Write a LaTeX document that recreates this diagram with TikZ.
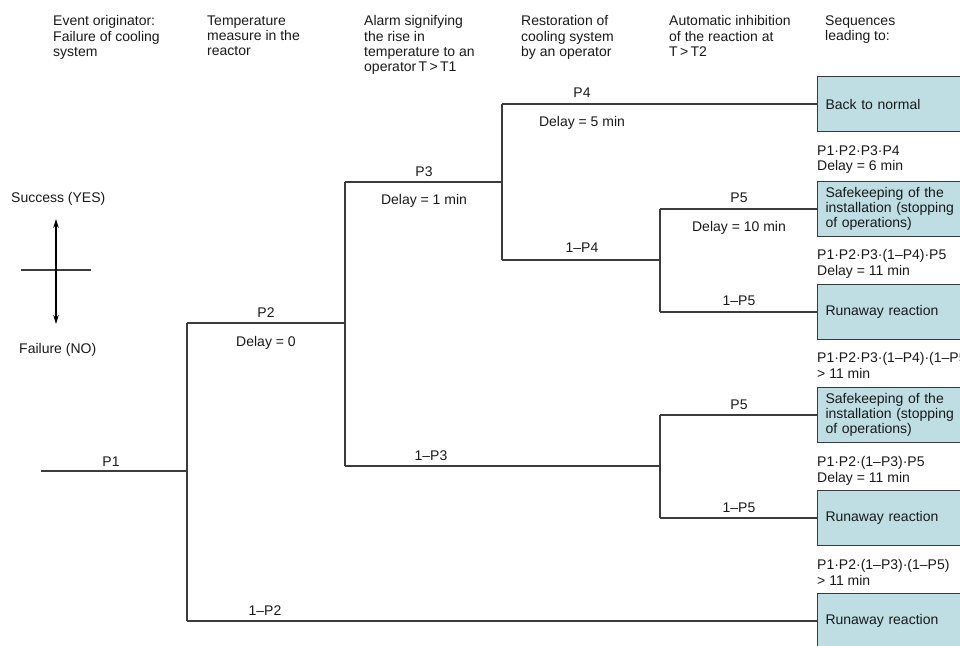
\documentclass[tikz,border=0pt]{standalone}
\usepackage{fontspec}
\setmainfont{Liberation Sans}
\usetikzlibrary{arrows.meta}
\definecolor{linegray}{RGB}{60,60,60}
\definecolor{boxfill}{RGB}{190,222,228}
\definecolor{boxedge}{RGB}{55,60,62}
\definecolor{inkcol}{RGB}{25,25,25}
\begin{document}
\begin{tikzpicture}[x=1pt,y=-1pt,
  txt/.style={font=\fontsize{14}{15.2}\selectfont, inner sep=0pt, text=inkcol},
  hdr/.style={txt, anchor=north west, align=left},
  lbl/.style={txt, anchor=base},
  seq/.style={txt, anchor=north west, align=left},
  branch/.style={draw=linegray, line width=1.2pt},
  outcome/.style={draw=boxedge, fill=boxfill, line width=1pt, anchor=west,
    minimum height=55pt, text width=150pt, inner xsep=8pt, inner ysep=0pt,
    align=left, font=\fontsize{14}{15.2}\selectfont, text=inkcol}]
\useasboundingbox (0,0) rectangle (960,645);
\clip (0,0) rectangle (960,645);

% column headings
\node[hdr] (h1) at (53,15.5) {Event originator:\\Failure of cooling\\system};
\node[hdr] (h2) at (207,15.5) {Temperature\\measure in the\\reactor};
\node[hdr] (h3) at (364,15.5) {Alarm signifying\\the rise in\\temperature to an\\operator\,T\,>\,T1};
\node[hdr] (h4) at (521,15.5) {Restoration of\\cooling system\\by an operator};
\node[hdr] (h5) at (669,15.5) {Automatic inhibition\\of the reaction at\\T\,>\,T2};
\node[hdr] (h6) at (825,15.5) {Sequences\\leading to:};

% legend
\node[txt, anchor=base west] (yes) at (11,202) {Success (YES)};
\node[txt, anchor=base west] (no) at (19,353) {Failure (NO)};
\coordinate (lup) at (56,219);
\coordinate (ldn) at (56,324);
\coordinate (ll) at (21,270);
\coordinate (lr) at (91,270);
\draw[branch] (ll) -- (lr);
\draw[draw=black, line width=1.2pt, {Stealth[length=9pt,width=5.5pt]}-{Stealth[length=9pt,width=5.5pt]}] (lup) -- (ldn);

% outcome boxes
\node[outcome] (o1) at (817,104) {Back to normal};
\node[outcome] (o2) at (817,209) {Safekeeping of the\\installation (stopping\\of operations)};
\node[outcome] (o3) at (817,312) {Runaway reaction};
\node[outcome] (o4) at (817,415) {Safekeeping of the\\installation (stopping\\of operations)};
\node[outcome] (o5) at (817,518) {Runaway reaction};
\node[outcome] (o6) at (817,621) {Runaway reaction};

% sequence probabilities and delays
\node[seq] (s1) at (817,145.5) {P1·P2·P3·P4\\Delay = 6 min};
\node[seq] (s2) at (817,249.5) {P1·P2·P3·(1–P4)·P5\\Delay = 11 min};
\node[seq] (s3) at (817,352.5) {P1·P2·P3·(1–P4)·(1–P5)\\> 11 min};
\node[seq] (s4) at (817,456.5) {P1·P2·(1–P3)·P5\\Delay = 11 min};
\node[seq] (s5) at (817,559.5) {P1·P2·(1–P3)·(1–P5)\\> 11 min};

% branch points
\coordinate (start) at (41,471);
\coordinate (b1) at (187,471);
\coordinate (b1u) at (187,323);
\coordinate (b1d) at (187,621);
\coordinate (b2) at (345,323);
\coordinate (b2u) at (345,182);
\coordinate (b2d) at (345,466);
\coordinate (b3) at (502,182);
\coordinate (b3u) at (502,104);
\coordinate (b3d) at (502,260);
\coordinate (b4) at (660,260);
\coordinate (b4u) at (660,209);
\coordinate (b4d) at (660,312);
\coordinate (b5) at (660,466);
\coordinate (b5u) at (660,415);
\coordinate (b5d) at (660,518);

% event tree
\draw[branch] (start) -- (b1);
\draw[branch] (b1u) -- (b1d);
\draw[branch] (b1u) -- (b2);
\draw[branch] (b1d) -- (o6.west);
\draw[branch] (b2u) -- (b2d);
\draw[branch] (b2u) -- (b3);
\draw[branch] (b2d) -- (b5);
\draw[branch] (b3u) -- (b3d);
\draw[branch] (b3u) -- (o1.west);
\draw[branch] (b3d) -- (b4);
\draw[branch] (b4u) -- (b4d);
\draw[branch] (b4u) -- (o2.west);
\draw[branch] (b4d) -- (o3.west);
\draw[branch] (b5u) -- (b5d);
\draw[branch] (b5u) -- (o4.west);
\draw[branch] (b5d) -- (o5.west);

% branch labels
\node[lbl] (lp1) at (111,466) {P1};
\node[lbl] (lp2) at (266,317) {P2};
\node[lbl] (dp2) at (266,346) {Delay = 0};
\node[lbl] (lq2) at (265,615) {1–P2};
\node[lbl] (lp3) at (424,176) {P3};
\node[lbl] (dp3) at (424,204) {Delay = 1 min};
\node[lbl] (lq3) at (431,460) {1–P3};
\node[lbl] (lp4) at (582,97) {P4};
\node[lbl] (dp4) at (582,126) {Delay = 5 min};
\node[lbl] (lq4) at (582,252) {1–P4};
\node[lbl] (lp5) at (739,202) {P5};
\node[lbl] (dp5) at (739,231) {Delay = 10 min};
\node[lbl] (lq5) at (739,305) {1–P5};
\node[lbl] (lp5b) at (739,409) {P5};
\node[lbl] (lq5b) at (739,512) {1–P5};
\end{tikzpicture}
\end{document}
